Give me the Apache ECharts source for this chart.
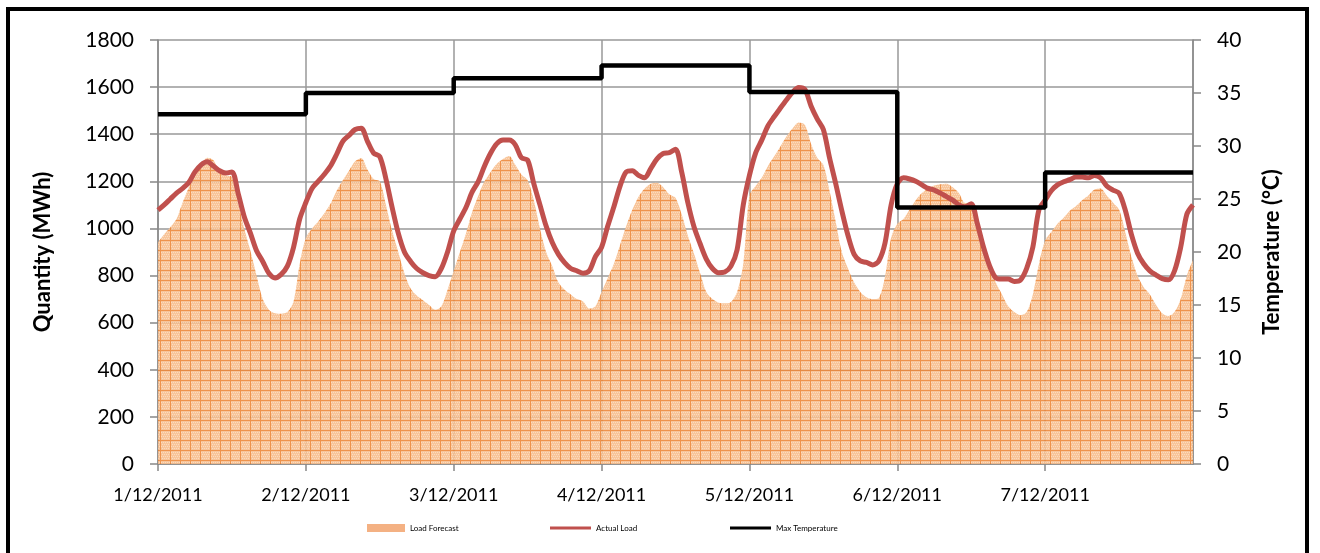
<!DOCTYPE html>
<html>
<head>
<meta charset="utf-8">
<script src="https://cdn.jsdelivr.net/npm/echarts@6/dist/echarts.min.js"></script>
<style>
html,body{margin:0;padding:0;background:#fff;}
#frame{position:absolute;left:6px;top:7px;width:1303px;height:560px;border:4px solid #000;box-sizing:border-box;}
#chart{position:absolute;left:0;top:0;width:1320px;height:553px;}
</style>
</head>
<body>
<div id="chart"></div>
<div id="frame"></div>
<script>
// ---- data ----
const dateLabels = ['1/12/2011','2/12/2011','3/12/2011','4/12/2011','5/12/2011','6/12/2011','7/12/2011'];
const hoursPerDay = 24;
// hourly load forecast (MWh), hour 0..168
const loadForecast = [
  940,975,1005,1040,1110,1175,1235,1270,1300,1290,1240,1225,1220,1110,1000,905,800,700,655,640,638,645,690,850,
  960,1000,1030,1065,1105,1160,1205,1245,1285,1298,1250,1210,1200,1100,990,900,810,745,715,695,675,655,670,740,
  820,900,980,1070,1140,1200,1240,1275,1295,1308,1270,1228,1205,1120,1000,900,840,770,740,720,700,690,660,670,
  730,790,850,930,1010,1080,1135,1170,1190,1194,1175,1145,1130,1060,970,894,810,730,700,685,682,688,730,850,
  1140,1180,1215,1265,1305,1347,1390,1425,1450,1440,1360,1300,1270,1160,1030,900,830,770,730,708,700,705,795,960,
  1020,1040,1080,1120,1150,1170,1182,1188,1190,1175,1150,1108,1110,1030,930,840,770,720,670,645,632,645,720,850,
  950,985,1020,1045,1075,1095,1120,1140,1165,1170,1140,1110,1080,985,880,800,750,720,675,640,628,645,700,800,
  866
];
// hourly actual load (MWh), hour 0..168
const actualLoad = [
  1078,1100,1125,1150,1170,1195,1240,1270,1283,1265,1245,1235,1240,1150,1050,980,905,860,810,790,805,840,920,1040,
  1110,1170,1200,1230,1265,1315,1370,1395,1420,1425,1370,1320,1305,1210,1090,980,900,860,830,812,800,795,830,900,
  990,1040,1090,1155,1200,1265,1320,1360,1375,1375,1355,1300,1290,1190,1100,1010,940,890,855,830,820,810,820,880,
  920,1010,1092,1180,1240,1245,1225,1215,1255,1295,1318,1322,1336,1240,1110,1007,935,870,830,812,815,840,910,1100,
  1225,1320,1375,1435,1474,1510,1545,1578,1598,1590,1520,1465,1420,1300,1191,1075,970,890,862,856,845,862,937,1100,
  1190,1215,1210,1200,1185,1170,1163,1150,1135,1120,1100,1092,1105,1020,920,840,790,785,785,775,781,830,920,1080,
  1120,1160,1185,1198,1207,1218,1218,1215,1225,1215,1180,1163,1150,1078,975,895,850,820,802,787,782,820,920,1060,
  1100
];
// daily max temperature (°C)
const maxTemperature = [33, 35, 36.4, 37.6, 35.1, 24.2, 27.5];

// ---- build ----
const forecastData = loadForecast.map((v, i) => [i, v]);
const actualData = actualLoad.map((v, i) => [i, v]);
const tempData = maxTemperature.map((t, d) => [d * hoursPerDay, t]);
tempData.push([maxTemperature.length * hoursPerDay, maxTemperature[maxTemperature.length - 1]]);

// pattern for forecast area
function makePattern(){
  const c = document.createElement('canvas');
  c.width = 10; c.height = 10;
  const g = c.getContext('2d');
  g.fillStyle = '#F7BE8C';
  g.fillRect(0,0,10,10);
  g.fillStyle = 'rgba(255,235,215,0.55)';
  for (let y=0;y<10;y+=2) for (let x=(y/2)%2;x<10;x+=2) g.fillRect(x,y,1,1);
  g.fillStyle = '#EC8535';
  g.fillRect(0,0,10,1);
  g.fillRect(0,0,1,10);
  return c;
}
const pattern = {image: makePattern(), repeat: 'repeat'};

const FONT = 'Lato';
const legendText = {fontFamily: FONT, fontSize: 8, color: '#000'};
const chart = echarts.init(document.getElementById('chart'), null, {renderer:'canvas'});
chart.setOption({
  animation: false,
  backgroundColor: '#fff',
  grid: {left: 158, right: 127, top: 40, bottom: 89, containLabel: false},
  legend: [
    {left: 362, top: 519, itemWidth: 38, itemHeight: 8, itemGap: 4, textStyle: legendText, data:[{name:'Load Forecast', icon:'rect'}]},
    {left: 545, top: 519, itemWidth: 41, itemHeight: 3, textStyle: legendText, data:[{name:'Actual Load', icon:'rect'}]},
    {left: 725, top: 519, itemWidth: 41, itemHeight: 3, textStyle: legendText, data:[{name:'Max Temperature', icon:'rect'}]}
  ],
  xAxis: {
    type: 'value', min: 0, max: dateLabels.length * hoursPerDay, interval: hoursPerDay,
    axisLine: {show: true, lineStyle: {color: '#888', width: 1.5}},
    axisTick: {show: true, length: 7, lineStyle: {color: '#888', width: 1.5}},
    axisLabel: {fontFamily: FONT, fontSize: 18, color: '#000', margin: 22, showMaxLabel: false,
      formatter: v => dateLabels[v / hoursPerDay] || ''},
    splitLine: {show: true, lineStyle: {color: '#999', width: 1.5}}
  },
  yAxis: [
    {
      type: 'value', min: 0, max: 1800, interval: 200,
      name: 'Quantity (MWh)', nameLocation: 'middle', nameGap: 104, nameRotate: 90,
      nameTextStyle: {fontFamily: FONT, fontWeight: 'bold', fontSize: 22, color: '#000'},
      axisLine: {show: true, lineStyle: {color: '#888', width: 1.5}},
      axisTick: {show: true, inside: false, length: 8, lineStyle: {color: '#888', width: 1.5}},
      axisLabel: {fontFamily: FONT, fontSize: 21, color: '#000', margin: 24, formatter: v => String(v)},
      splitLine: {show: true, lineStyle: {color: '#999', width: 1.5}}
    },
    {
      type: 'value', min: 0, max: 40, interval: 5, position: 'right',
      name: 'Temperature (°C)', nameLocation: 'middle', nameGap: 68, nameRotate: 90,
      nameTextStyle: {fontFamily: FONT, fontWeight: 'bold', fontSize: 22, color: '#000'},
      axisLine: {show: true, lineStyle: {color: '#888', width: 1.5}},
      axisTick: {show: true, length: 8, lineStyle: {color: '#888', width: 1.5}},
      axisLabel: {fontFamily: FONT, fontSize: 21, color: '#000', margin: 24, formatter: v => String(v)},
      splitLine: {show: false}
    }
  ],
  series: [
    {
      name: 'Load Forecast', type: 'line', yAxisIndex: 0, data: forecastData,
      showSymbol: false, smooth: 0.3, lineStyle: {width: 0, color: '#F7BE8C'},
      itemStyle: {color: '#F4B183'},
      areaStyle: {color: pattern, opacity: 0.88}, z: 1
    },
    {
      name: 'Actual Load', type: 'line', yAxisIndex: 0, data: actualData,
      showSymbol: false, smooth: 0.3, lineStyle: {width: 5, color: '#C0504D'},
      itemStyle: {color: '#C0504D'}, z: 3
    },
    {
      name: 'Max Temperature', type: 'line', yAxisIndex: 1, data: tempData,
      step: 'end', showSymbol: false, lineStyle: {width: 4.5, color: '#000'},
      itemStyle: {color: '#000'}, z: 4
    }
  ]
});
</script>
</body>
</html>
